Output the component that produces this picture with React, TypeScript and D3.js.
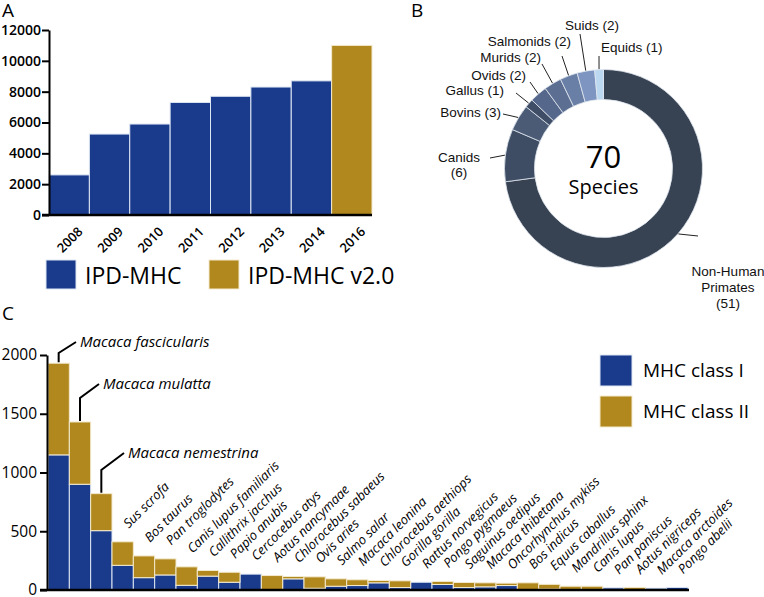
import React, { useRef, useEffect } from "react";
import * as d3 from "d3";

// Panel A: number of alleles per release
const years = ["2008", "2009", "2010", "2011", "2012", "2013", "2014", "2016"];
const alleleCounts = [2600, 5250, 5900, 7300, 7700, 8300, 8700, 11000];
const releases = ["IPD-MHC", "IPD-MHC", "IPD-MHC", "IPD-MHC", "IPD-MHC", "IPD-MHC", "IPD-MHC", "IPD-MHC v2.0"];
const releaseNames = ["IPD-MHC", "IPD-MHC v2.0"];
const yTicksA = [0, 2000, 4000, 6000, 8000, 10000, 12000];

// Panel B: species per group
const groups = ["Non-Human Primates", "Canids", "Bovins", "Gallus", "Ovids", "Murids", "Salmonids", "Suids", "Equids"];
const groupCounts = [51, 6, 3, 1, 2, 2, 2, 2, 1];

// Panel C: alleles per species
const species = [
  "Macaca fascicularis", "Macaca mulatta", "Macaca nemestrina", "Sus scrofa", "Bos taurus",
  "Pan troglodytes", "Canis lupus familiaris", "Callithrix jacchus", "Papio anubis", "Cercocebus atys",
  "Aotus nancymaae", "Chlorocebus sabaeus", "Ovis aries", "Salmo salar", "Macaca leonina",
  "Chlorocebus aethiops", "Gorilla gorilla", "Rattus norvegicus", "Pongo pygmaeus", "Saguinus oedipus",
  "Macaca thibetana", "Oncorhynchus mykiss", "Bos indicus", "Equus caballus", "Mandrillus sphinx",
  "Canis lupus", "Pan paniscus", "Aotus nigriceps", "Macaca arctoides", "Pongo abelii",
];
const classI = [1150, 900, 505, 210, 105, 128, 40, 118, 66, 135, 0, 95, 15, 32, 38, 61, 21, 66, 47, 21, 27, 38, 0, 8, 0, 0, 18, 0, 15, 22];
const classII = [780, 530, 315, 200, 185, 137, 157, 48, 85, 0, 123, 20, 97, 63, 49, 20, 57, 0, 26, 43, 34, 20, 61, 40, 32, 32, 0, 22, 0, 0];
const classNames = ["MHC class I", "MHC class II"];
const yTicksC = [0, 500, 1000, 1500, 2000];

const BLUE = "#1a3a8c";
const GOLD = "#b0881e";
const BLUE_EDGE = "#dde6f3";
const GOLD_EDGE = "#f3e9cc";
const SANS = "'Open Sans', sans-serif";
const ARIAL = "'Liberation Sans', Arial, sans-serif";

const App: React.FC = () => {
  const ref = useRef<SVGSVGElement>(null);

  useEffect(() => {
    const svg = d3.select(ref.current);
    svg.selectAll("*").remove();

    // panel letters
    [["A", 2, 17], ["B", 411, 17], ["C", 2, 320]].forEach(([t, x, y]) => {
      svg.append("text").attr("x", x).attr("y", y).style("font-family", SANS)
        .style("font-size", "19px").text(t as string);
    });

    // ---------- Panel A ----------
    const xA = d3.scaleBand().domain(years).range([49, 372]).padding(0);
    const yA = d3.scaleLinear().domain([0, 12000]).range([215, 30]);
    const colorA = d3.scaleOrdinal<string>().domain(releaseNames).range([BLUE, GOLD]);
    const edgeA = d3.scaleOrdinal<string>().domain(releaseNames).range([BLUE_EDGE, GOLD_EDGE]);

    const gA = svg.append("g");
    gA.selectAll("rect.a")
      .data(years)
      .enter()
      .append("rect")
      .attr("x", (d) => xA(d)!)
      .attr("width", xA.bandwidth())
      .attr("y", (d, i) => yA(alleleCounts[i]))
      .attr("height", (d, i) => yA(0) - yA(alleleCounts[i]))
      .attr("fill", (d, i) => colorA(releases[i]))
      .attr("stroke", (d, i) => edgeA(releases[i]))
      .attr("stroke-width", 1);

    const axA = gA.append("g")
      .attr("transform", "translate(49,0)")
      .call(d3.axisLeft(yA).tickValues(yTicksA).tickSize(7).tickSizeOuter(0).tickPadding(1).tickFormat(d3.format("d")));
    axA.select(".domain").attr("stroke", "#000").attr("stroke-width", 2);
    axA.selectAll(".tick line").attr("stroke", "#000").attr("stroke-width", 2);
    axA.selectAll("text").style("font-family", SANS).style("font-size", "14px").style("font-weight", 600).attr("fill", "#000");

    gA.append("line").attr("x1", 42).attr("x2", 372).attr("y1", yA(0)).attr("y2", yA(0))
      .attr("stroke", "#000").attr("stroke-width", 2.5);

    gA.selectAll("text.yr")
      .data(years)
      .enter()
      .append("text")
      .attr("transform", (d) => `translate(${xA(d)! + xA.bandwidth() / 2 + 8},${yA(0) + 11}) rotate(-45)`)
      .attr("text-anchor", "end")
      .attr("dy", "0.7em")
      .style("font-family", SANS)
      .style("font-size", "13px")
      .style("font-weight", 600)
      .text((d) => d);

    // legend A
    const legA = [46, 209];
    releaseNames.forEach((name, i) => {
      gA.append("rect").attr("x", legA[i]).attr("y", 260).attr("width", 30).attr("height", 29)
        .attr("fill", colorA(name)).attr("stroke", edgeA(name));
      gA.append("text").attr("x", legA[i] + 39).attr("y", 284)
        .style("font-family", SANS).style("font-size", "23px").text(name);
    });

    // ---------- Panel B ----------
    const cx = 603.5, cy = 168.5, rIn = 69, rOut = 99;
    const pie = d3.pie<number>().sort(null).value((d) => d);
    const arcs = pie(groupCounts);
    const arc = d3.arc<d3.PieArcDatum<number>>().innerRadius(rIn).outerRadius(rOut);
    const colorB = d3.scaleOrdinal<string>().domain(groups)
      .range(["#374252", "#3e4d64", "#4b5b76", "#3f4e66", "#55678a", "#5c6f92", "#6a7fa5", "#7d95c0", "#bcd7f0"]);

    const gB = svg.append("g").attr("transform", `translate(${cx},${cy})`);
    gB.selectAll("path")
      .data(arcs)
      .enter()
      .append("path")
      .attr("d", arc)
      .attr("fill", (d, i) => colorB(groups[i]))
      .attr("stroke", "#dfe6ef")
      .attr("stroke-width", 0.8);

    gB.append("text").attr("text-anchor", "middle").attr("y", -1).style("font-family", SANS)
      .style("font-size", "31px").text(d3.sum(groupCounts));
    gB.append("text").attr("text-anchor", "middle").attr("y", 25).style("font-family", SANS)
      .style("font-size", "20px").text("Species");

    // label layout: [anchor, x, baselines, lineEndX, lineEndY]
    const labelLayout: [string, number, number[], number, number][] = [
      ["middle", 728, [276, 292, 308], 698, 236],
      ["middle", 459, [162, 177], 490, 158],
      ["end", 501, [117], 503, 114],
      ["end", 504, [95], 516, 93],
      ["end", 526, [80], 530, 82],
      ["end", 541, [62], 542, 64],
      ["end", 571, [46], 562, 56],
      ["start", 565, [30], 580, 34],
      ["start", 601, [52], 599, 56],
    ];
    const labelLines = [["Non-Human", "Primates", "(51)"], ["Canids", "(6)"]];
    arcs.forEach((a, i) => {
      const [anchor, lx, ys, ex, ey] = labelLayout[i];
      const mid = (a.startAngle + a.endAngle) / 2;
      const sx = cx + (rOut + 0.5) * Math.sin(mid);
      const sy = cy - (rOut + 0.5) * Math.cos(mid);
      svg.append("line").attr("x1", sx).attr("y1", sy).attr("x2", ex).attr("y2", ey)
        .attr("stroke", "#222").attr("stroke-width", 1);
      const lines = labelLines[i] || [`${groups[i]} (${groupCounts[i]})`];
      lines.forEach((t, j) => {
        svg.append("text").attr("x", lx).attr("y", ys[j]).attr("text-anchor", anchor)
          .style("font-family", ARIAL).style("font-size", "13.5px").attr("fill", "#111").text(t);
      });
    });

    // ---------- Panel C ----------
    const xC = d3.scaleBand().domain(species).range([48, 688]).padding(0);
    const yC = d3.scaleLinear().domain([0, 2000]).range([590, 355]);
    const colorC = d3.scaleOrdinal<string>().domain(classNames).range([BLUE, GOLD]);
    const edgeC = d3.scaleOrdinal<string>().domain(classNames).range([BLUE_EDGE, GOLD_EDGE]);

    const rows = species.map((s, i) => ({ species: s, "MHC class I": classI[i], "MHC class II": classII[i] }));
    const stacked = d3.stack<any>().keys(classNames)(rows);

    const gC = svg.append("g");
    gC.selectAll("g.layer")
      .data(stacked)
      .enter()
      .append("g")
      .attr("fill", (d) => colorC(d.key))
      .attr("stroke", (d) => edgeC(d.key))
      .attr("stroke-width", 1)
      .selectAll("rect")
      .data((d) => d.filter((p) => p[1] > p[0]))
      .enter()
      .append("rect")
      .attr("x", (d) => xC(d.data.species)!)
      .attr("width", xC.bandwidth())
      .attr("y", (d) => yC(d[1]))
      .attr("height", (d) => yC(d[0]) - yC(d[1]));

    const axC = gC.append("g")
      .attr("transform", "translate(47,0)")
      .call(d3.axisLeft(yC).tickValues(yTicksC).tickSize(7).tickSizeOuter(0).tickPadding(3).tickFormat(d3.format("d")));
    axC.select(".domain").attr("stroke", "#000").attr("stroke-width", 2);
    axC.selectAll(".tick line").attr("stroke", "#000").attr("stroke-width", 2);
    axC.selectAll("text").style("font-family", SANS).style("font-size", "15.5px").attr("fill", "#000");

    gC.append("line").attr("x1", 40).attr("x2", 689).attr("y1", yC(0)).attr("y2", yC(0))
      .attr("stroke", "#000").attr("stroke-width", 2.5);

    const totals = species.map((s, i) => classI[i] + classII[i]);

    // top three: horizontal labels with leader lines [labelX, baseline, elbowY]
    const calloutLayout = [[80, 347, 353], [103, 389, 398], [128, 458, 470]];
    calloutLayout.forEach(([lx, by, ey], i) => {
      const bx = xC(species[i])! + xC.bandwidth() / 2;
      gC.append("path")
        .attr("d", `M${bx},${yC(totals[i]) - 1}V${ey}L${lx - 4},${by - 5}`)
        .attr("fill", "none").attr("stroke", "#000").attr("stroke-width", 2);
      gC.append("text").attr("x", lx).attr("y", by).style("font-family", SANS)
        .style("font-size", "15px").style("font-style", "italic").text(species[i]);
    });

    gC.selectAll("text.sp")
      .data(species.slice(3))
      .enter()
      .append("text")
      .attr("transform", (d, i) =>
        `translate(${xC(d)! + xC.bandwidth() / 2 + 6},${yC(totals[i + 3]) - 13}) rotate(-45)`)
      .style("font-family", SANS)
      .style("font-size", "13px")
      .style("font-style", "italic")
      .text((d) => d);

    // legend C
    const legCy = [355, 396];
    classNames.forEach((name, i) => {
      gC.append("rect").attr("x", 600).attr("y", legCy[i]).attr("width", 32).attr("height", 31)
        .attr("fill", colorC(name)).attr("stroke", edgeC(name));
      gC.append("text").attr("x", 643).attr("y", legCy[i] + 22)
        .style("font-family", SANS).style("font-size", "19px").text(name);
    });
  }, []);

  return (
    <svg
      ref={ref}
      width={764}
      height={597}
      style={{ position: "absolute", left: 0, top: 0, background: "#fff" }}
    />
  );
};

export default App;
